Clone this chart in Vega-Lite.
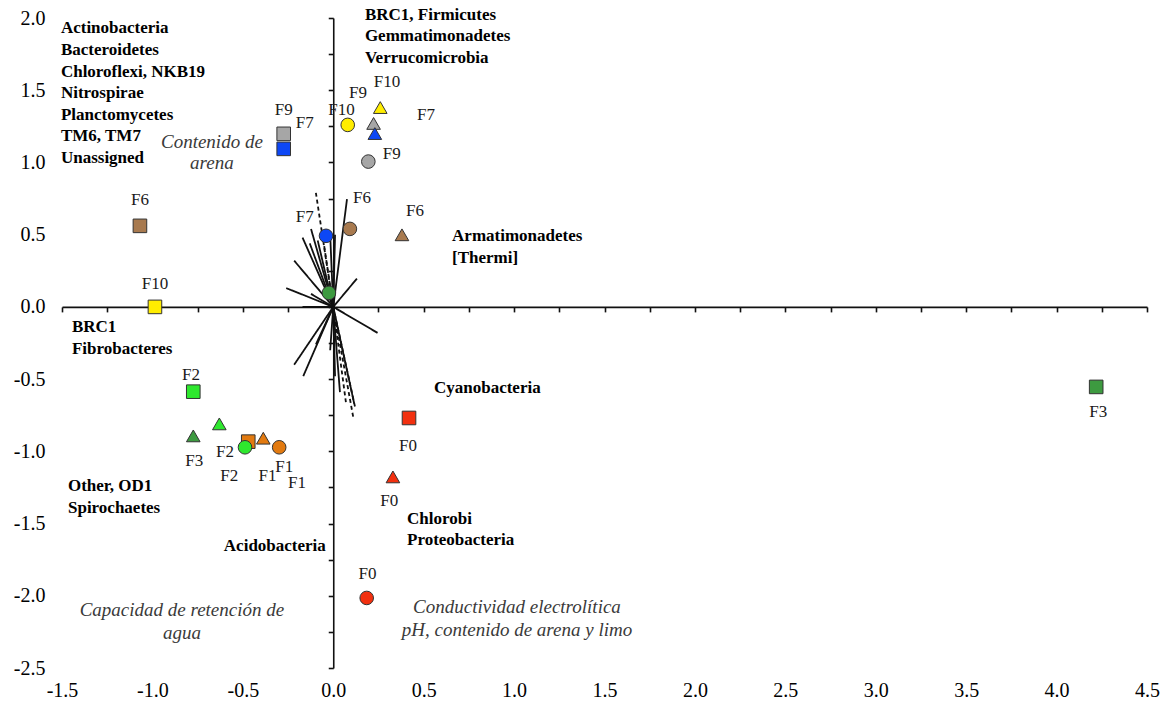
{
  "$schema": "https://vega.github.io/schema/vega-lite/v6.json",
  "width": 1085,
  "height": 650,
  "autosize": "none",
  "padding": {"left": 62, "top": 18, "right": 26, "bottom": 40},
  "background": "white",
  "config": {
    "view": {"stroke": null},
    "font": "Liberation Serif",
    "axis": {"grid": false, "title": null, "labelFlush": false, "labelOverlap": false, "labelBound": false}
  },
  "datasets": {
    "vectores": [
      {"vx": 0.076, "vy": 0.746, "tipo": "continua"},
      {"vx": 0.01, "vy": 0.5, "tipo": "continua"},
      {"vx": -0.017, "vy": 0.5, "tipo": "continua"},
      {"vx": -0.123, "vy": 0.54, "tipo": "continua"},
      {"vx": -0.17, "vy": 0.48, "tipo": "continua"},
      {"vx": -0.13, "vy": 0.44, "tipo": "continua"},
      {"vx": -0.086, "vy": 0.46, "tipo": "continua"},
      {"vx": -0.216, "vy": 0.32, "tipo": "continua"},
      {"vx": -0.26, "vy": 0.13, "tipo": "continua"},
      {"vx": -0.123, "vy": 0.09, "tipo": "continua"},
      {"vx": 0.131, "vy": 0.196, "tipo": "continua"},
      {"vx": -0.17, "vy": 0.0, "tipo": "continua"},
      {"vx": 0.245, "vy": -0.18, "tipo": "continua"},
      {"vx": -0.216, "vy": -0.4, "tipo": "continua"},
      {"vx": -0.166, "vy": -0.48, "tipo": "continua"},
      {"vx": -0.096, "vy": -0.26, "tipo": "continua"},
      {"vx": 0.01, "vy": -0.48, "tipo": "continua"},
      {"vx": -0.017, "vy": -0.3, "tipo": "continua"},
      {"vx": 0.116, "vy": -0.67, "tipo": "continua"},
      {"vx": 0.037, "vy": -0.59, "tipo": "continua"},
      {"vx": -0.096, "vy": 0.79, "tipo": "discontinua"},
      {"vx": -0.05, "vy": 0.42, "tipo": "discontinua"},
      {"vx": 0.07, "vy": -0.66, "tipo": "discontinua"},
      {"vx": 0.12, "vy": -0.69, "tipo": "discontinua"},
      {"vx": 0.11, "vy": -0.76, "tipo": "discontinua"}
    ],
    "puntos": [
      {"x": -0.274, "y": 1.198, "fraccion": "F9", "serie": "A"},
      {"x": -0.274, "y": 1.094, "fraccion": "F7", "serie": "A"},
      {"x": -1.069, "y": 0.561, "fraccion": "F6", "serie": "A"},
      {"x": -0.986, "y": 0.0, "fraccion": "F10", "serie": "A"},
      {"x": -0.774, "y": -0.587, "fraccion": "F2", "serie": "A"},
      {"x": -0.47, "y": -0.933, "fraccion": "F1", "serie": "A"},
      {"x": 0.419, "y": -0.769, "fraccion": "F0", "serie": "A"},
      {"x": 4.219, "y": -0.554, "fraccion": "F3", "serie": "A"},
      {"x": 0.08, "y": 1.26, "fraccion": "F10", "serie": "B"},
      {"x": 0.194, "y": 1.006, "fraccion": "F9", "serie": "B"},
      {"x": -0.04, "y": 0.492, "fraccion": "F7", "serie": "B"},
      {"x": 0.092, "y": 0.54, "fraccion": "F6", "serie": "B"},
      {"x": -0.024, "y": 0.097, "fraccion": "F3", "serie": "B"},
      {"x": -0.488, "y": -0.972, "fraccion": "F2", "serie": "B"},
      {"x": -0.299, "y": -0.972, "fraccion": "F1", "serie": "B"},
      {"x": 0.185, "y": -2.015, "fraccion": "F0", "serie": "B"},
      {"x": 0.26, "y": 1.38, "fraccion": "F10", "serie": "C"},
      {"x": 0.223, "y": 1.27, "fraccion": "F9", "serie": "C"},
      {"x": 0.23, "y": 1.2, "fraccion": "F7", "serie": "C"},
      {"x": 0.38, "y": 0.499, "fraccion": "F6", "serie": "C"},
      {"x": -0.63, "y": -0.81, "fraccion": "F2", "serie": "C"},
      {"x": -0.774, "y": -0.893, "fraccion": "F3", "serie": "C"},
      {"x": -0.387, "y": -0.909, "fraccion": "F1", "serie": "C"},
      {"x": 0.33, "y": -1.177, "fraccion": "F0", "serie": "C"}
    ],
    "etiquetas": [
      {"x": -0.274, "y": 1.364, "t": "F9"},
      {"x": -0.157, "y": 1.274, "t": "F7"},
      {"x": -1.069, "y": 0.741, "t": "F6"},
      {"x": -0.986, "y": 0.159, "t": "F10"},
      {"x": -0.787, "y": -0.47, "t": "F2"},
      {"x": -0.769, "y": -1.07, "t": "F3"},
      {"x": -0.599, "y": -1.002, "t": "F2"},
      {"x": -0.575, "y": -1.168, "t": "F2"},
      {"x": -0.363, "y": -1.168, "t": "F1"},
      {"x": -0.271, "y": -1.106, "t": "F1"},
      {"x": -0.2, "y": -1.217, "t": "F1"},
      {"x": 0.31, "y": -1.343, "t": "F0"},
      {"x": 0.19, "y": -1.849, "t": "F0"},
      {"x": 0.413, "y": -0.963, "t": "F0"},
      {"x": 4.23, "y": -0.727, "t": "F3"},
      {"x": 0.297, "y": 1.558, "t": "F10"},
      {"x": 0.137, "y": 1.482, "t": "F9"},
      {"x": 0.046, "y": 1.364, "t": "F10"},
      {"x": 0.513, "y": 1.33, "t": "F7"},
      {"x": 0.323, "y": 1.06, "t": "F9"},
      {"x": 0.159, "y": 0.755, "t": "F6"},
      {"x": 0.452, "y": 0.665, "t": "F6"},
      {"x": -0.157, "y": 0.623, "t": "F7"}
    ],
    "filos": [
      {"x": -1.506, "y": 1.932, "t": "Actinobacteria"},
      {"x": -1.506, "y": 1.78, "t": "Bacteroidetes"},
      {"x": -1.506, "y": 1.627, "t": "Chloroflexi, NKB19"},
      {"x": -1.506, "y": 1.482, "t": "Nitrospirae"},
      {"x": -1.506, "y": 1.33, "t": "Planctomycetes"},
      {"x": -1.506, "y": 1.184, "t": "TM6, TM7"},
      {"x": -1.506, "y": 1.032, "t": "Unassigned"},
      {"x": 0.175, "y": 2.022, "t": "BRC1, Firmicutes"},
      {"x": 0.175, "y": 1.873, "t": "Gemmatimonadetes"},
      {"x": 0.175, "y": 1.724, "t": "Verrucomicrobia"},
      {"x": 0.657, "y": 0.492, "t": "Armatimonadetes"},
      {"x": 0.657, "y": 0.339, "t": "[Thermi]"},
      {"x": -1.445, "y": -0.139, "t": "BRC1"},
      {"x": -1.445, "y": -0.291, "t": "Fibrobacteres"},
      {"x": 0.557, "y": -0.561, "t": "Cyanobacteria"},
      {"x": -1.467, "y": -1.24, "t": "Other, OD1"},
      {"x": -1.467, "y": -1.392, "t": "Spirochaetes"},
      {"x": -0.605, "y": -1.655, "t": "Acidobacteria"},
      {"x": 0.408, "y": -1.468, "t": "Chlorobi"},
      {"x": 0.408, "y": -1.614, "t": "Proteobacteria"}
    ],
    "variables": [
      {"x": -0.671, "y": 1.143, "t": "Contenido de"},
      {"x": -0.671, "y": 0.997, "t": "arena"},
      {"x": -0.837, "y": -2.098, "t": "Capacidad de retención de"},
      {"x": -0.837, "y": -2.258, "t": "agua"},
      {"x": 1.016, "y": -2.078, "t": "Conductividad electrolítica"},
      {"x": 1.016, "y": -2.237, "t": "pH, contenido de arena y limo"}
    ]
  },
  "resolve": {"axis": {"x": "independent", "y": "independent"}},
  "layer": [
    {
      "data": {"name": "vectores"},
      "mark": {"type": "rule", "color": "#111111", "strokeWidth": 1.8},
      "encoding": {
        "x": {
          "field": "vx", "type": "quantitative",
          "scale": {"domain": [-1.5, 4.5], "nice": false, "zero": false},
          "axis": {
            "orient": "bottom", "offset": -361.1, "labels": false, "domain": true, "ticks": true,
            "tickSize": 5, "tickWidth": 1.6, "domainWidth": 1.6,
            "domainColor": "#111111", "tickColor": "#111111",
            "values": [-1.5, -1.25, -1, -0.75, -0.5, -0.25, 0, 0.25, 0.5, 0.75, 1, 1.25, 1.5, 1.75, 2, 2.25, 2.5, 2.75, 3, 3.25, 3.5, 3.75, 4, 4.25, 4.5]
          }
        },
        "y": {
          "field": "vy", "type": "quantitative",
          "scale": {"domain": [-2.5, 2.0], "nice": false, "zero": false},
          "axis": {
            "orient": "left", "offset": -271.25, "labels": false, "domain": true, "ticks": true,
            "tickSize": 5, "tickWidth": 1.6, "domainWidth": 1.6,
            "domainColor": "#111111", "tickColor": "#111111",
            "values": [-2.5, -2.25, -2, -1.75, -1.5, -1.25, -1, -0.75, -0.5, -0.25, 0, 0.25, 0.5, 0.75, 1, 1.25, 1.5, 1.75, 2]
          }
        },
        "x2": {"datum": 0},
        "y2": {"datum": 0},
        "strokeDash": {
          "field": "tipo", "type": "nominal",
          "scale": {"domain": ["continua", "discontinua"], "range": [[1, 0], [4, 3]]},
          "legend": null
        }
      }
    },
    {
      "data": {"name": "puntos"},
      "mark": {"type": "point", "filled": true, "opacity": 1, "stroke": "#333333", "strokeWidth": 1, "size": 185},
      "encoding": {
        "x": {
          "field": "x", "type": "quantitative",
          "scale": {"domain": [-1.5, 4.5], "nice": false, "zero": false},
          "axis": {
            "orient": "bottom", "domain": false, "ticks": false, "labelPadding": 12,
            "labelFont": "Liberation Serif", "labelFontSize": 20, "labelColor": "#000000",
            "values": [-1.5, -1, -0.5, 0, 0.5, 1, 1.5, 2, 2.5, 3, 3.5, 4, 4.5],
            "labelExpr": "datum.value < 0 ? '-' + format(-datum.value, '.1f') : format(datum.value, '.1f')"
          }
        },
        "y": {
          "field": "y", "type": "quantitative",
          "scale": {"domain": [-2.5, 2.0], "nice": false, "zero": false},
          "axis": {
            "orient": "left", "domain": false, "ticks": false, "labelPadding": 17,
            "labelFont": "Liberation Serif", "labelFontSize": 20, "labelColor": "#000000",
            "values": [-2.5, -2, -1.5, -1, -0.5, 0, 0.5, 1, 1.5, 2],
            "labelExpr": "datum.value < 0 ? '-' + format(-datum.value, '.1f') : format(datum.value, '.1f')"
          }
        },
        "color": {
          "field": "fraccion", "type": "nominal",
          "scale": {
            "domain": ["F0", "F1", "F2", "F3", "F6", "F7", "F9", "F10"],
            "range": ["#f2300f", "#e27a10", "#2ee82e", "#3d9a40", "#a87a4f", "#0d47f5", "#a6a6a6", "#ffed00"]
          },
          "legend": null
        },
        "shape": {
          "field": "serie", "type": "nominal",
          "scale": {"domain": ["A", "B", "C"], "range": ["square", "circle", "triangle-up"]},
          "legend": null
        }
      }
    },
    {
      "data": {"name": "etiquetas"},
      "mark": {"type": "text", "font": "Liberation Serif", "fontSize": 17, "color": "#1a1a1a", "align": "center", "baseline": "middle"},
      "encoding": {
        "x": {"field": "x", "type": "quantitative", "scale": {"domain": [-1.5, 4.5], "nice": false, "zero": false}, "axis": null},
        "y": {"field": "y", "type": "quantitative", "scale": {"domain": [-2.5, 2.0], "nice": false, "zero": false}, "axis": null},
        "text": {"field": "t", "type": "nominal"}
      }
    },
    {
      "data": {"name": "filos"},
      "mark": {"type": "text", "font": "Liberation Serif", "fontSize": 17, "fontWeight": "bold", "color": "#000000", "align": "left", "baseline": "middle"},
      "encoding": {
        "x": {"field": "x", "type": "quantitative", "scale": {"domain": [-1.5, 4.5], "nice": false, "zero": false}, "axis": null},
        "y": {"field": "y", "type": "quantitative", "scale": {"domain": [-2.5, 2.0], "nice": false, "zero": false}, "axis": null},
        "text": {"field": "t", "type": "nominal"}
      }
    },
    {
      "data": {"name": "variables"},
      "mark": {"type": "text", "font": "Liberation Serif", "fontSize": 19, "fontStyle": "italic", "color": "#3a3a3a", "align": "center", "baseline": "middle"},
      "encoding": {
        "x": {"field": "x", "type": "quantitative", "scale": {"domain": [-1.5, 4.5], "nice": false, "zero": false}, "axis": null},
        "y": {"field": "y", "type": "quantitative", "scale": {"domain": [-2.5, 2.0], "nice": false, "zero": false}, "axis": null},
        "text": {"field": "t", "type": "nominal"}
      }
    }
  ]
}
